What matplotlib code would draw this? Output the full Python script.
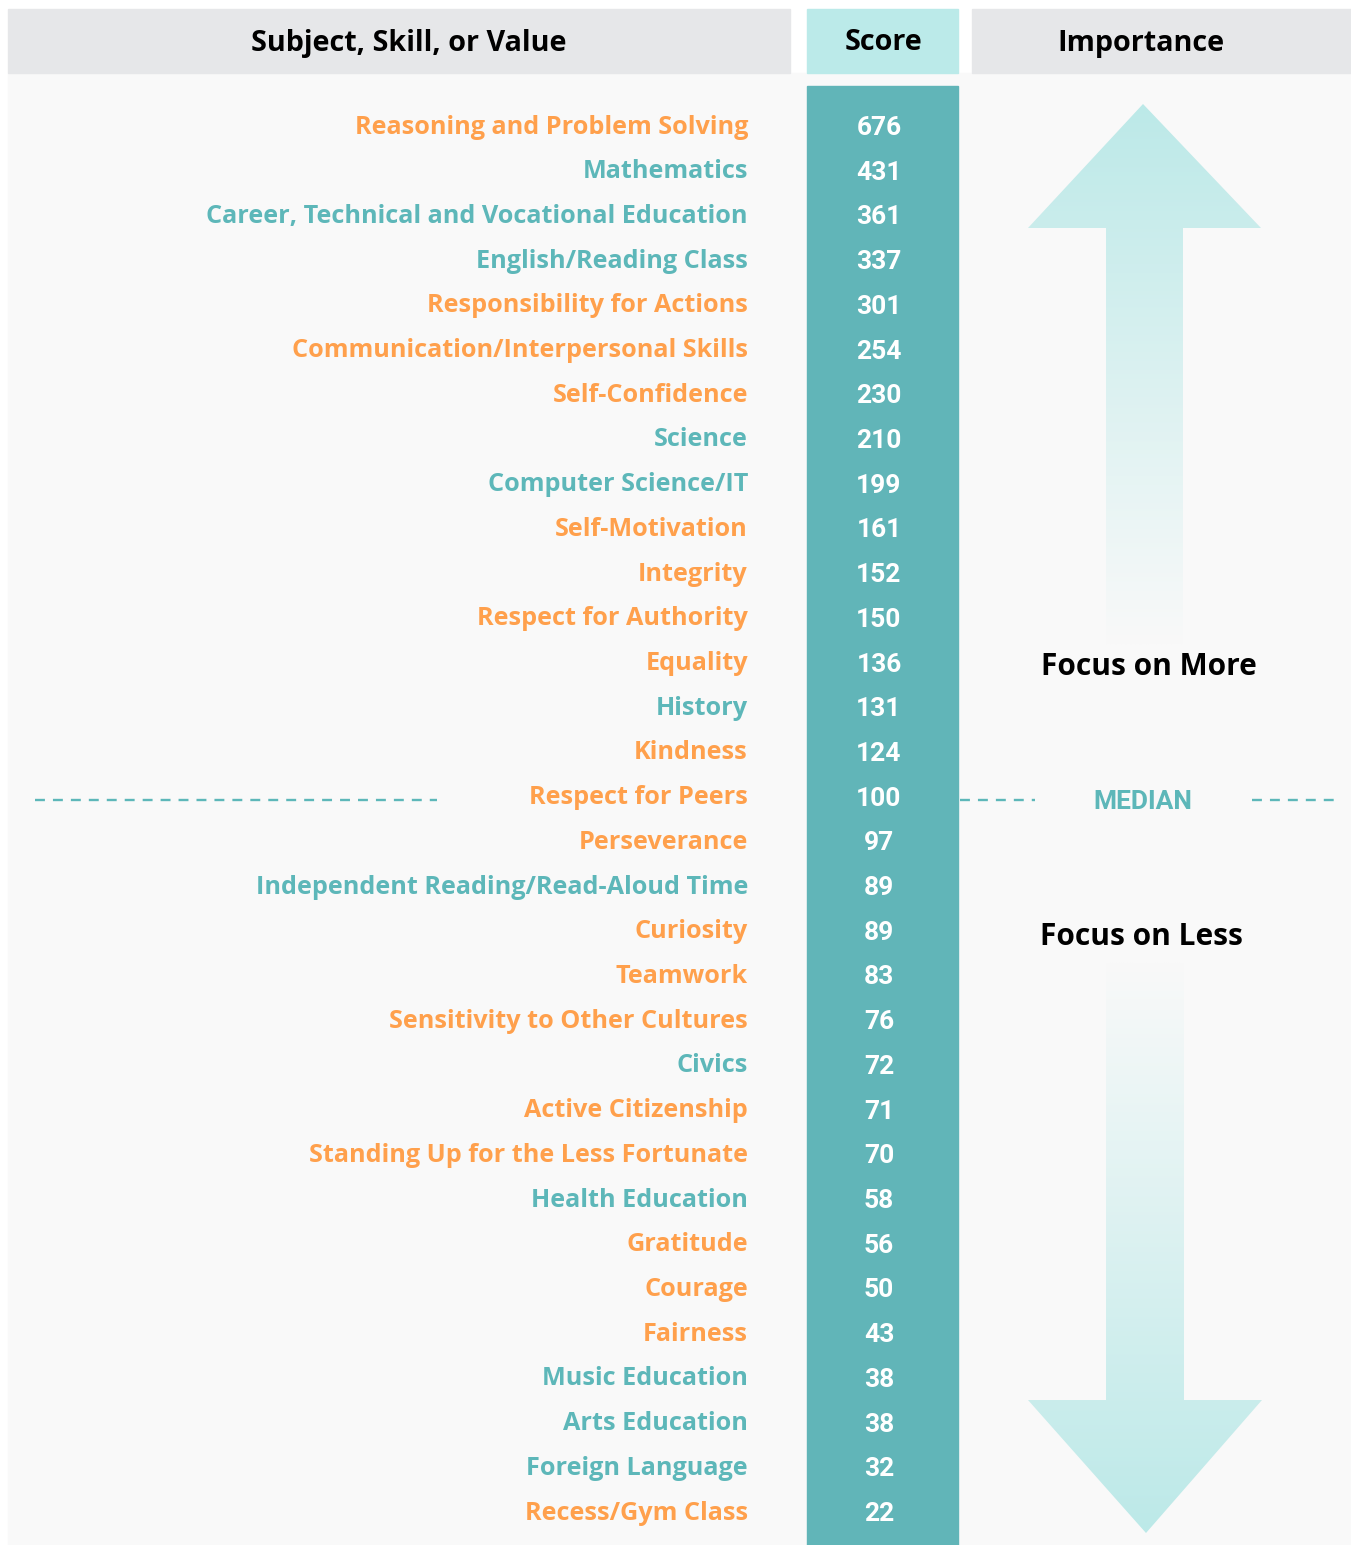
import matplotlib
matplotlib.use('Agg')
import matplotlib.pyplot as plt
import numpy as np
from matplotlib.patches import Rectangle, Polygon

labels = ['Reasoning and Problem Solving', 'Mathematics',
          'Career, Technical and Vocational Education', 'English/Reading Class',
          'Responsibility for Actions', 'Communication/Interpersonal Skills',
          'Self-Confidence', 'Science', 'Computer Science/IT', 'Self-Motivation',
          'Integrity', 'Respect for Authority', 'Equality', 'History', 'Kindness',
          'Respect for Peers', 'Perseverance',
          'Independent Reading/Read-Aloud Time', 'Curiosity', 'Teamwork',
          'Sensitivity to Other Cultures', 'Civics', 'Active Citizenship',
          'Standing Up for the Less Fortunate', 'Health Education', 'Gratitude',
          'Courage', 'Fairness', 'Music Education', 'Arts Education',
          'Foreign Language', 'Recess/Gym Class']
scores = [676, 431, 361, 337, 301, 254, 230, 210, 199, 161, 152, 150, 136, 131,
          124, 100, 97, 89, 89, 83, 76, 72, 71, 70, 58, 56, 50, 43, 38, 38, 32, 22]
# 'v' = skill/value (orange), 's' = subject (teal)
kinds = ['v', 's', 's', 's', 'v', 'v', 'v', 's', 's', 'v', 'v', 'v', 'v', 's', 'v',
         'v', 'v', 's', 'v', 'v', 'v', 's', 'v', 'v', 's', 'v', 'v', 'v', 's', 's',
         's', 'v']
median_label = 'Respect for Peers'

ORANGE = '#FFA04C'
TEAL = '#5DB7B9'
BAR = '#61B5B8'
BG = '#F9F9F9'
GREY = '#E6E7E9'
LIGHT = '#BCE9E8'
kind_color = {'v': ORANGE, 's': TEAL}

W, H = 1351, 1545
fig = plt.figure(figsize=(W / 100, H / 100), dpi=100)
fig.patch.set_facecolor('white')
ax = fig.add_axes([0, 0, 1, 1])
ax.set_xlim(0, W)
ax.set_ylim(H, 0)
ax.axis('off')

plt.rcParams['font.family'] = ['Open Sans', 'DejaVu Sans']

# background + headers
ax.add_patch(Rectangle((8, 73), W - 8, H - 73, color=BG, zorder=0))
ax.add_patch(Rectangle((8, 9), 782, 64, color=GREY, zorder=1))
ax.add_patch(Rectangle((807, 9), 151, 64, color='#BBEAE9', zorder=1))
ax.add_patch(Rectangle((972, 9), W - 972, 64, color=GREY, zorder=1))
hdr = dict(fontsize=20.7, fontweight='bold', ha='center', va='center', color='black')
ax.text(409, 43, 'Subject, Skill, or Value', **hdr)
ax.text(883, 43, 'Score', **hdr)
ax.text(1141, 43, 'Importance', **hdr)

# score column
ax.add_patch(Rectangle((807, 86), 151, H - 86, color=BAR, zorder=1))

y0, dy = 127, (1513 - 127) / (len(labels) - 1)
ys = y0 + dy * np.arange(len(labels))
for lab, sc, k, y in zip(labels, scores, kinds, ys):
    ax.text(748, y, lab, ha='right', va='center', fontsize=18.2,
            fontweight='bold', color=kind_color[k], zorder=3)
    ax.text(879, y + 1, str(sc), ha='center', va='center', fontsize=19,
            fontweight='bold', color='white', zorder=3,
            family=['Roboto', 'DejaVu Sans'])

# median line
ym = ys[labels.index(median_label)] + 2
ls = dict(color=TEAL, lw=1.7, ls=(0, (4.2, 3.4)), zorder=2)
ax.plot([35, 437], [ym, ym], **ls)
ax.plot([960, 1035], [ym, ym], **ls)
ax.plot([1252, 1335], [ym, ym], **ls)
ax.text(1143, ym + 2, 'MEDIAN', ha='center', va='center', fontsize=19,
        fontweight='bold', color=TEAL, family=['Roboto', 'DejaVu Sans'])


def grad_arrow(pts, top, bot, c_top, c_bot):
    poly = Polygon(pts, closed=True, facecolor='none', edgecolor='none')
    ax.add_patch(poly)
    c1 = np.array(matplotlib.colors.to_rgb(c_top))
    c2 = np.array(matplotlib.colors.to_rgb(c_bot))
    t = np.linspace(0, 1, 256)[:, None]
    img = (c1 * (1 - t) + c2 * t)[:, None, :]
    im = ax.imshow(img, extent=[1020, 1270, bot, top], aspect='auto', zorder=1,
                   interpolation='bilinear')
    im.set_clip_path(poly)


up = [(1143, 104), (1261, 228), (1183, 228), (1183, 645), (1106, 645),
      (1106, 228), (1028, 228)]
grad_arrow(up, 104, 645, LIGHT, BG)
down = [(1106, 962), (1184, 962), (1184, 1400), (1262, 1400), (1146, 1533),
        (1028, 1400), (1106, 1400)]
grad_arrow(down, 962, 1533, BG, LIGHT)

ax.text(1149, 667, 'Focus on More', ha='center', va='center', fontsize=21.5,
        fontweight='bold', color='black')
ax.text(1141, 937, 'Focus on Less', ha='center', va='center', fontsize=21.5,
        fontweight='bold', color='black')

fig.savefig('out.png', dpi=100, facecolor=fig.get_facecolor())
